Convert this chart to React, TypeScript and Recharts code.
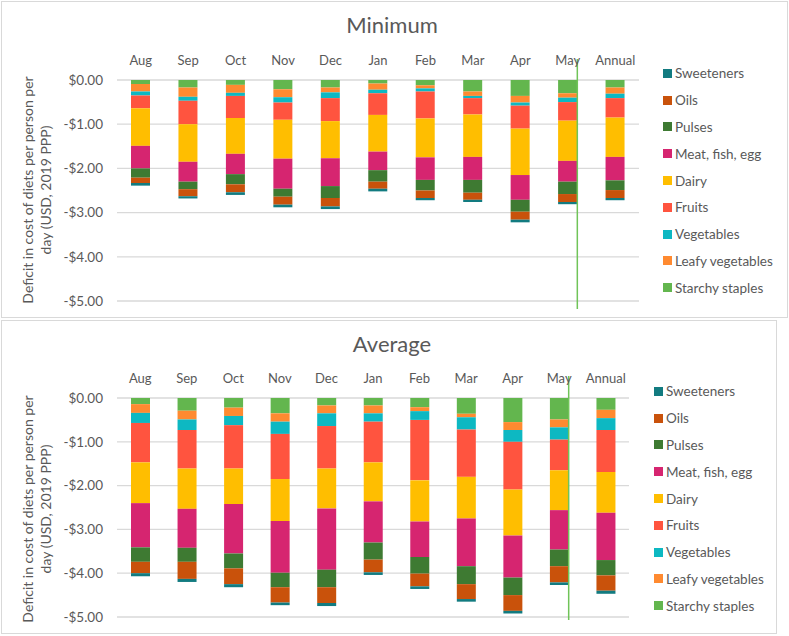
import { Bar, BarChart, CartesianGrid, ReferenceLine, XAxis, YAxis } from "recharts";

const MONTHS = ["Aug", "Sep", "Oct", "Nov", "Dec", "Jan", "Feb", "Mar", "Apr", "May", "Annual"];

// Minimum-cost diet deficits (USD per person per day)
const MIN_STARCHY = [-0.09, -0.17, -0.11, -0.21, -0.17, -0.08, -0.12, -0.26, -0.36, -0.3, -0.17];
const MIN_LEAFY = [-0.17, -0.21, -0.18, -0.18, -0.11, -0.14, -0.07, -0.1, -0.15, -0.1, -0.14];
const MIN_VEG = [-0.09, -0.09, -0.07, -0.12, -0.13, -0.08, -0.07, -0.05, -0.07, -0.1, -0.1];
const MIN_FRUITS = [-0.29, -0.53, -0.5, -0.39, -0.52, -0.49, -0.61, -0.37, -0.52, -0.42, -0.44];
const MIN_DAIRY = [-0.85, -0.85, -0.81, -0.88, -0.84, -0.83, -0.88, -0.96, -1.05, -0.91, -0.89];
const MIN_MEAT = [-0.51, -0.45, -0.46, -0.68, -0.63, -0.42, -0.51, -0.52, -0.56, -0.47, -0.53];
const MIN_PULSES = [-0.21, -0.17, -0.23, -0.18, -0.27, -0.26, -0.24, -0.29, -0.27, -0.28, -0.22];
const MIN_OILS = [-0.12, -0.16, -0.18, -0.18, -0.19, -0.16, -0.17, -0.16, -0.18, -0.18, -0.18];
const MIN_SWEET = [-0.06, -0.05, -0.06, -0.06, -0.06, -0.06, -0.05, -0.05, -0.06, -0.05, -0.05];

// Average diet deficits
const AVG_STARCHY = [-0.14, -0.29, -0.22, -0.35, -0.17, -0.17, -0.21, -0.36, -0.55, -0.49, -0.27];
const AVG_LEAFY = [-0.2, -0.2, -0.19, -0.19, -0.18, -0.18, -0.09, -0.08, -0.18, -0.18, -0.19];
const AVG_VEG = [-0.23, -0.24, -0.21, -0.28, -0.29, -0.19, -0.2, -0.28, -0.27, -0.28, -0.27];
const AVG_FRUITS = [-0.9, -0.88, -0.99, -1.03, -0.97, -0.93, -1.38, -1.08, -1.09, -0.7, -0.96];
const AVG_DAIRY = [-0.93, -0.92, -0.81, -0.96, -0.91, -0.89, -0.94, -0.95, -1.05, -0.91, -0.93];
const AVG_MEAT = [-1.01, -0.89, -1.13, -1.18, -1.4, -0.94, -0.81, -1.09, -0.96, -0.9, -1.08];
const AVG_PULSES = [-0.33, -0.32, -0.34, -0.33, -0.4, -0.39, -0.38, -0.41, -0.4, -0.38, -0.35];
const AVG_OILS = [-0.26, -0.39, -0.36, -0.35, -0.36, -0.29, -0.29, -0.34, -0.36, -0.37, -0.35];
const AVG_SWEET = [-0.07, -0.07, -0.07, -0.06, -0.07, -0.06, -0.06, -0.06, -0.06, -0.06, -0.07];

const Y_TICKS = [0, -1, -2, -3, -4, -5];

// stacking order from zero downward
const SERIES = [
  { key: "starchy", label: "Starchy staples", color: "#63b64e" },
  { key: "leafy", label: "Leafy vegetables", color: "#ff8a30" },
  { key: "veg", label: "Vegetables", color: "#0db8c2" },
  { key: "fruits", label: "Fruits", color: "#ff543f" },
  { key: "dairy", label: "Dairy", color: "#ffbe00" },
  { key: "meat", label: "Meat, fish, egg", color: "#d62570" },
  { key: "pulses", label: "Pulses", color: "#3e7a32" },
  { key: "oils", label: "Oils", color: "#c9520b" },
  { key: "sweet", label: "Sweeteners", color: "#127b80" },
];

function buildRows(cols: Record<string, number[]>) {
  return MONTHS.map((m, i) => {
    const row: Record<string, string | number> = { month: m };
    for (const k of Object.keys(cols)) row[k] = cols[k][i];
    return row;
  });
}

const minRows = buildRows({
  starchy: MIN_STARCHY, leafy: MIN_LEAFY, veg: MIN_VEG, fruits: MIN_FRUITS, dairy: MIN_DAIRY,
  meat: MIN_MEAT, pulses: MIN_PULSES, oils: MIN_OILS, sweet: MIN_SWEET,
});
const avgRows = buildRows({
  starchy: AVG_STARCHY, leafy: AVG_LEAFY, veg: AVG_VEG, fruits: AVG_FRUITS, dairy: AVG_DAIRY,
  meat: AVG_MEAT, pulses: AVG_PULSES, oils: AVG_OILS, sweet: AVG_SWEET,
});

const FONT = "Lato, 'Open Sans', sans-serif";
const TEXT = "#595959";
const BAR_SIZE = 19;

function fmtDollar(v: number): string {
  return v === 0 ? "$0.00" : "-$" + Math.abs(v).toFixed(2);
}

interface PanelProps {
  title: string;
  rows: Record<string, string | number>[];
  left: number;
  top: number;
  width: number;
  height: number;
  marginTop: number;
  marginBottom: number;
  marginRight: number;
  legendX: number;
  legendY: number;
  lineUp: number;
  lineDown: number;
}

function Panel(p: PanelProps) {
  return (
    <div
      style={{
        position: "absolute",
        left: p.left,
        top: p.top,
        width: p.width,
        height: p.height,
        border: "1px solid #d9d9d9",
        boxSizing: "border-box",
        background: "#fff",
        fontFamily: FONT,
      }}
    >
      <div
        style={{
          position: "absolute",
          left: 0,
          width: 780,
          top: 9,
          textAlign: "center",
          fontSize: 22,
          color: TEXT,
        }}
      >
        {p.title}
      </div>
      <div
        style={{
          position: "absolute",
          left: 35,
          top: 188,
          width: 260,
          transform: "translate(-50%, -50%) rotate(-90deg)",
          textAlign: "center",
          fontSize: 14,
          lineHeight: "18px",
          color: TEXT,
        }}
      >
        Deficit in cost of diets per person per
        <br />
        day (USD, 2019 PPP)
      </div>
      <div style={{ position: "absolute", left: -1, top: -1 }}>
        <BarChart
          width={789}
          height={p.height}
          data={p.rows}
          barSize={BAR_SIZE}
          margin={{ top: p.marginTop, right: p.marginRight, bottom: p.marginBottom, left: 0 }}
        >
          <CartesianGrid vertical={false} stroke="#d9d9d9" strokeWidth={1.3} />
          <XAxis
            dataKey="month"
            orientation="top"
            height={29}
            axisLine={false}
            tickLine={false}
            tickMargin={9}
            interval={0}
            tick={{ fill: TEXT, fontSize: 13, fontFamily: FONT }}
          />
          <YAxis
            type="number"
            domain={[-5, 0]}
            ticks={Y_TICKS}
            width={116}
            axisLine={false}
            tickLine={false}
            tickMargin={8}
            tickFormatter={fmtDollar}
            tick={{ fill: TEXT, fontSize: 13.5, fontFamily: FONT }}
          />
          {SERIES.map((s) => (
            <Bar
              key={s.key}
              dataKey={s.key}
              stackId="a"
              fill={s.color}
              isAnimationActive={false}
            />
          ))}
          <ReferenceLine
            x="May"
            ifOverflow="visible"
            shape={(lp: any) => (
              <line
                x1={lp.x1 + BAR_SIZE / 2}
                x2={lp.x2 + BAR_SIZE / 2}
                y1={lp.y1 - p.lineUp}
                y2={lp.y2 + p.lineDown}
                stroke="#70c458"
                strokeWidth={1.5}
              />
            )}
          />
        </BarChart>
      </div>
      <div style={{ position: "absolute", left: p.legendX, top: p.legendY }}>
        {[...SERIES].reverse().map((s) => (
          <div
            key={s.key}
            style={{ display: "flex", alignItems: "center", height: 26.8, fontSize: 13.5, color: TEXT }}
          >
            <span
              style={{ display: "inline-block", width: 9, height: 9, background: s.color, marginRight: 3 }}
            />
            {s.label}
          </div>
        ))}
      </div>
    </div>
  );
}

export default function App() {
  return (
    <div style={{ position: "absolute", left: 0, top: 0, width: 789, height: 636, background: "#fff" }}>
      <Panel
        title="Minimum"
        rows={minRows}
        left={1}
        top={1}
        width={787}
        height={317}
        marginTop={50}
        marginBottom={17}
        marginRight={151}
        legendX={661}
        legendY={58}
        lineUp={21}
        lineDown={8}
      />
      <Panel
        title="Average"
        rows={avgRows}
        left={1}
        top={320}
        width={776}
        height={314}
        marginTop={49}
        marginBottom={17}
        marginRight={161}
        legendX={652}
        legendY={57}
        lineUp={22}
        lineDown={3}
      />
    </div>
  );
}
